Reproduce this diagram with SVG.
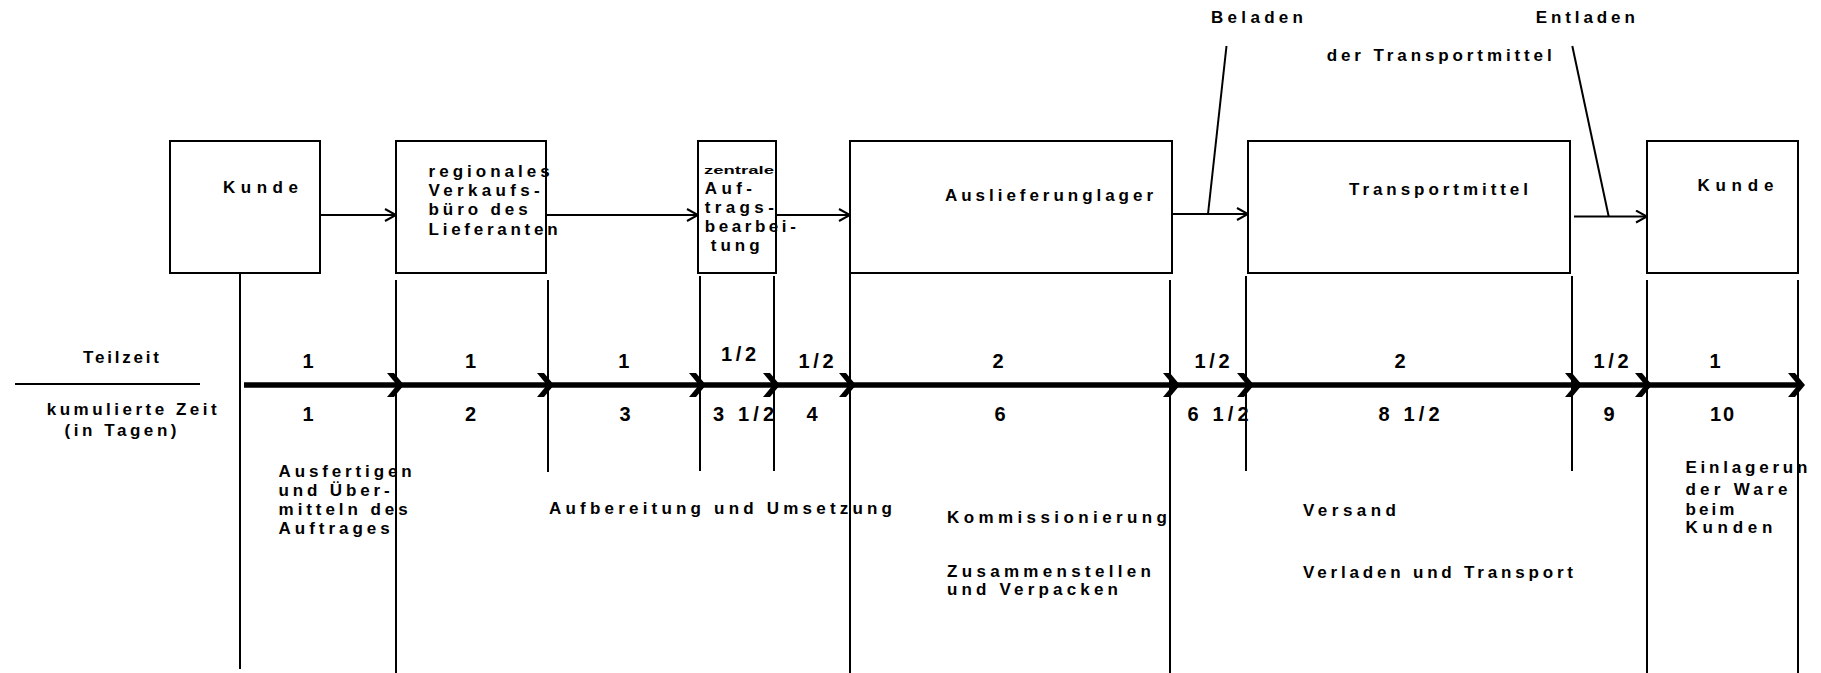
<svg xmlns="http://www.w3.org/2000/svg" width="1821" height="673" viewBox="0 0 1821 673">
<style>
text{font-family:"Liberation Sans Narrow","Arial Narrow","Liberation Sans",Arial,sans-serif;font-weight:bold;fill:#000}
.l{font-size:17px}
.n{font-size:20px}
.box{fill:#fff;stroke:#000;stroke-width:2}
.v{stroke:#000;stroke-width:2;fill:none}
.c{stroke:#000;stroke-width:2;fill:none}
.tl{stroke:#000;stroke-width:5.5;fill:none}
</style>
<defs>
<marker id="ah" markerUnits="userSpaceOnUse" markerWidth="14" markerHeight="16" refX="12" refY="7" orient="auto">
<path d="M1,1 L12,7 L1,13" fill="none" stroke="#000" stroke-width="2"/>
</marker>
<polygon id="chev" points="-17,-12 -10,-12 0,0 -10,12 -17,12 -7,0" fill="#000"/>
</defs>
<rect width="1821" height="673" fill="#fff"/>

<g id="connectors">
<path class="c" d="M320,215 H396" marker-end="url(#ah)"/>
<path class="c" d="M547,215 H698" marker-end="url(#ah)"/>
<path class="c" d="M776,215 H850" marker-end="url(#ah)"/>
<path class="c" d="M1172,214 H1248" marker-end="url(#ah)"/>
<path class="c" d="M1574,216.5 H1647" marker-end="url(#ah)"/>
<path class="c" d="M1226.5,46 L1208,214"/>
<path class="c" d="M1572.3,46 L1608.7,216.5"/>
</g>

<g id="node-kunde1">
<rect class="box" x="170" y="141" width="150" height="132"/>
<text class="l" x="223" y="192.7" textLength="75">Kunde</text>
</g>
<g id="node-verkaufsbuero">
<rect class="box" x="396" y="141" width="150" height="132"/>
<text class="l" x="428.6" y="176.5" textLength="121">regionales</text>
<text class="l" x="428.6" y="195.5" textLength="111">Verkaufs-</text>
<text class="l" x="428.6" y="215" textLength="99">büro des</text>
<text class="l" x="428.6" y="234.5" textLength="129">Lieferanten</text>
</g>
<g id="node-zentrale">
<rect class="box" x="698" y="141" width="78" height="132"/>
<text x="704" y="174" style="font-size:11px" textLength="70" lengthAdjust="spacingAndGlyphs">zentrale</text>
<text class="l" x="704.8" y="194" textLength="47">Auf-</text>
<text class="l" x="704.8" y="213" textLength="69">trags-</text>
<text class="l" x="704.8" y="232" textLength="91">bearbei-</text>
<text class="l" x="710.7" y="251" textLength="49">tung</text>
</g>
<g id="node-auslieferungslager">
<rect class="box" x="850" y="141" width="322" height="132"/>
<text class="l" x="945" y="200.7" textLength="208">Auslieferunglager</text>
</g>
<g id="node-transportmittel">
<rect class="box" x="1248" y="141" width="322" height="132"/>
<text class="l" x="1349" y="195" textLength="179">Transportmittel</text>
</g>
<g id="node-kunde2">
<rect class="box" x="1647" y="141" width="151" height="132"/>
<text class="l" x="1697.4" y="190.7" textLength="76">Kunde</text>
</g>

<g id="annotations">
<text class="l" x="1211" y="22.7" textLength="92">Beladen</text>
<text class="l" x="1326.7" y="61" textLength="225">der Transportmittel</text>
<text class="l" x="1535.8" y="22.7" textLength="99">Entladen</text>
</g>

<g id="legend">
<text class="l" x="83" y="362.7" textLength="76">Teilzeit</text>
<path class="c" d="M15,384 H200"/>
<text class="l" x="46.7" y="415" textLength="170">kumulierte Zeit</text>
<text class="l" x="64.5" y="436" textLength="112">(in Tagen)</text>
</g>

<g id="verticals">
<path class="v" d="M240,273 V669"/>
<path class="v" d="M396,280 V673"/>
<path class="v" d="M548,280 V472"/>
<path class="v" d="M700,276 V471"/>
<path class="v" d="M774,276 V471"/>
<path class="v" d="M850,273 V673"/>
<path class="v" d="M1170,280 V673"/>
<path class="v" d="M1246,276 V471"/>
<path class="v" d="M1572,276 V471"/>
<path class="v" d="M1647,280 V673"/>
<path class="v" d="M1798,280 V673"/>
</g>

<g id="timeline">
<path class="tl" d="M244,385 H1800"/>
<use href="#chev" x="404" y="385"/>
<use href="#chev" x="554" y="385"/>
<use href="#chev" x="706" y="385"/>
<use href="#chev" x="780" y="385"/>
<use href="#chev" x="856" y="385"/>
<use href="#chev" x="1180" y="385"/>
<use href="#chev" x="1254" y="385"/>
<use href="#chev" x="1582" y="385"/>
<use href="#chev" x="1652" y="385"/>
<use href="#chev" x="1805" y="385"/>
</g>

<g id="teilzeit" text-anchor="middle">
<text class="n" x="308" y="367.5">1</text>
<text class="n" x="470.5" y="367.5">1</text>
<text class="n" x="623.7" y="367.5">1</text>
<text class="n" x="738.6" y="361" textLength="35">1/2</text>
<text class="n" x="816" y="367.7" textLength="35">1/2</text>
<text class="n" x="998" y="367.5">2</text>
<text class="n" x="1212" y="367.7" textLength="35">1/2</text>
<text class="n" x="1400" y="367.5">2</text>
<text class="n" x="1611" y="367.7" textLength="35">1/2</text>
<text class="n" x="1715" y="367.5">1</text>
</g>
<g id="kumuliert" text-anchor="middle">
<text class="n" x="308" y="420.7">1</text>
<text class="n" x="470.5" y="420.7">2</text>
<text class="n" x="625" y="420.7">3</text>
<text class="n" x="743.5" y="420.7" textLength="61">3 1/2</text>
<text class="n" x="812" y="420.7">4</text>
<text class="n" x="1000" y="420.7">6</text>
<text class="n" x="1218" y="420.7" textLength="61">6 1/2</text>
<text class="n" x="1409" y="420.7" textLength="61">8 1/2</text>
<text class="n" x="1609" y="420.7">9</text>
<text class="n" x="1722" y="420.7" textLength="24">10</text>
</g>

<g id="activities">
<text class="l" x="278.6" y="476.7" textLength="133">Ausfertigen</text>
<text class="l" x="278.6" y="496" textLength="111">und Über-</text>
<text class="l" x="278.6" y="515" textLength="129">mitteln des</text>
<text class="l" x="278.6" y="534.3" textLength="111">Auftrages</text>
<text class="l" x="549" y="514" textLength="343">Aufbereitung und Umsetzung</text>
<text class="l" x="947" y="523.3" textLength="220">Kommissionierung</text>
<text class="l" x="947" y="576.7" textLength="204">Zusammenstellen</text>
<text class="l" x="947" y="595" textLength="171">und Verpacken</text>
<text class="l" x="1303" y="516" textLength="93">Versand</text>
<text class="l" x="1303" y="578.3" textLength="270">Verladen und Transport</text>
<text class="l" x="1685.4" y="473.3" textLength="122">Einlagerun</text>
<text class="l" x="1685.4" y="495" textLength="102">der Ware</text>
<text class="l" x="1685.4" y="515" textLength="49">beim</text>
<text class="l" x="1685.4" y="533.3" textLength="87">Kunden</text>
</g>
</svg>
